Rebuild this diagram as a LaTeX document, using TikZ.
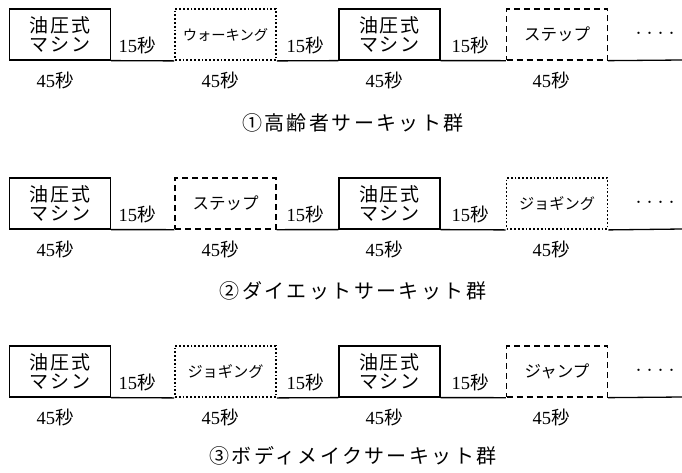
\documentclass[tikz,border=0pt]{standalone}
\usepackage{fontspec}
\setmainfont{Liberation Serif}
\newfontfamily\jp{Noto Sans CJK JP}
\newfontfamily\jpt[LetterSpace=12]{Noto Sans CJK JP}
\newfontfamily\jpb[LetterSpace=9]{Noto Sans CJK JP}
\tikzset{
  seg/.style={line width=1.3pt},
  boxbase/.style={minimum width=101pt, minimum height=51pt, inner sep=0pt, align=center, font=\jp},
  solidbox/.style={boxbase, draw, line width=1.2pt, font=\jpb\fontsize{19}{18.5}\selectfont},
  dotbox/.style={boxbase, draw, line width=1.8pt, dash pattern=on 1.8pt off 2pt},
  dashbox/.style={boxbase, draw, line width=1.3pt, dash pattern=on 6pt off 4pt},
  sec/.style={font=\fontsize{18.5}{18.5}\selectfont, inner sep=0pt},
  ttl/.style={font=\jpt\fontsize{20}{20}\selectfont, inner sep=0pt},
  dots/.style={font=\jp\fontsize{11}{11}\selectfont, inner sep=0pt}
}
\newcommand\crow[8]{%
  \node[solidbox] (r#1a) at (60,34.5+#2) {油圧式\\マシン};
  \node[#3] (r#1b) at (225.5,34.5+#2) {#4};
  \node[solidbox] (r#1c) at (389.5,34.5+#2) {油圧式\\マシン};
  \node[#5] (r#1d) at (557,34.5+#2) {#6};
  \coordinate (r#1end) at (682,60+#2);
  \draw[seg] (r#1a.south east) -- (r#1b.south west);
  \draw[seg] (r#1b.south east) -- (r#1c.south west);
  \draw[seg] (r#1c.south east) -- (r#1d.south west);
  \draw[seg] (r#1d.south east) -- (r#1end);
  \node[sec] (r#1s1) at (137,45+#2) {15{\jp 秒}};
  \node[sec] (r#1s2) at (305,45+#2) {15{\jp 秒}};
  \node[sec] (r#1s3) at (470,45+#2) {15{\jp 秒}};
  \node[dots] (r#1dots) at (655,35+#2) {・・・・};
  \node[sec] (r#1f1) at (55,80+#2) {45{\jp 秒}};
  \node[sec] (r#1f2) at (220,80+#2) {45{\jp 秒}};
  \node[sec] (r#1f3) at (384,80+#2) {45{\jp 秒}};
  \node[sec] (r#1f4) at (551,80+#2) {45{\jp 秒}};
  \node[ttl] (r#1t) at (353,#7) {#8};
}
\begin{document}
\begin{tikzpicture}[x=1pt,y=-1pt]
\useasboundingbox (0,0) rectangle (682,472);
\crow{1}{0}{dotbox}{\fontsize{14.3}{15}\selectfont ウォーキング}{dashbox}{\fontsize{16.5}{17}\selectfont ステップ}{123}{①高齢者サーキット群}
\crow{2}{169}{dashbox}{\fontsize{16.5}{17}\selectfont ステップ}{dotbox}{\fontsize{15.2}{16}\selectfont ジョギング}{291}{②ダイエットサーキット群}
\crow{3}{337}{dotbox}{\fontsize{15.2}{16}\selectfont ジョギング}{dashbox}{\fontsize{16.5}{17}\selectfont ジャンプ}{456}{③ボディメイクサーキット群}
\end{tikzpicture}
\end{document}
